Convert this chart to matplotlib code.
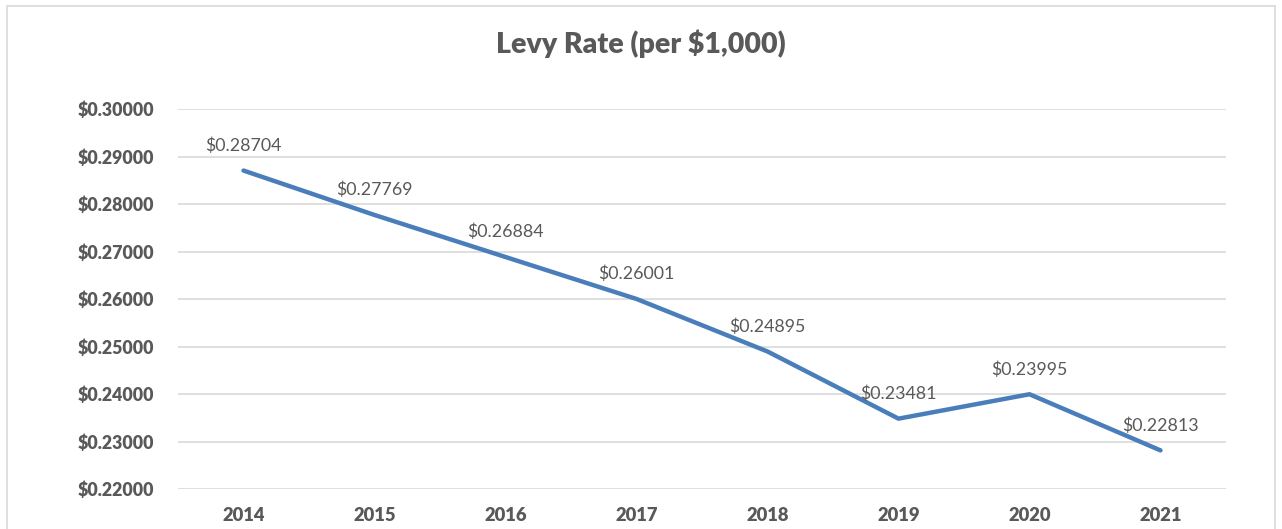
import matplotlib.pyplot as plt
from matplotlib.patches import Rectangle

years = ["2014", "2015", "2016", "2017", "2018", "2019", "2020", "2021"]
rates = [0.28704, 0.27769, 0.26884, 0.26001, 0.24895, 0.23481, 0.23995, 0.22813]
yticks = [0.22, 0.23, 0.24, 0.25, 0.26, 0.27, 0.28, 0.29, 0.30]

TEXT = "#595959"
GRID = "#d9d9d9"
LINE = "#4a7ebb"

plt.rcParams["font.family"] = ["Lato", "DejaVu Sans"]

fig = plt.figure(figsize=(12.82, 5.29), dpi=100)
fig.patches.append(Rectangle((7 / 1282, -0.05), (1275 - 7) / 1282, 1.05 - 6 / 529,
                             transform=fig.transFigure, fill=False,
                             edgecolor=GRID, lw=1.2))

ax = fig.add_axes([178 / 1282, 1 - 489 / 529, (1226 - 178) / 1282, (489 - 109) / 529])
x = list(range(len(years)))
ax.plot(x, rates, color=LINE, lw=3.2, solid_capstyle="round", solid_joinstyle="round", zorder=3)
for xi, v in zip(x, rates):
    ax.annotate(f"${v:.5f}", (xi, v), xytext=(0, 12), textcoords="offset points",
                ha="center", va="bottom", fontsize=12.8, color=TEXT)

ax.set_xlim(-0.5, len(years) - 0.5)
ax.set_ylim(0.22, 0.30)
ax.set_yticks(yticks)
ax.set_yticklabels([f"${t:.5f}" for t in yticks], fontsize=12.8, fontweight="heavy", color=TEXT)
ax.set_xticks(x)
ax.set_xticklabels(years, fontsize=13.2, fontweight="heavy", color=TEXT)
ax.tick_params(axis="y", length=0, pad=17)
ax.tick_params(axis="x", length=0, pad=13)
ax.grid(True, axis="y", color=GRID, lw=1.2)
ax.set_axisbelow(True)
for s in ax.spines.values():
    s.set_visible(False)

fig.text(0.5, 1 - 44 / 529, "Levy Rate (per $1,000)", ha="center", va="center",
         fontsize=20.5, fontweight="heavy", color=TEXT)

fig.savefig("out.png", dpi=100)
